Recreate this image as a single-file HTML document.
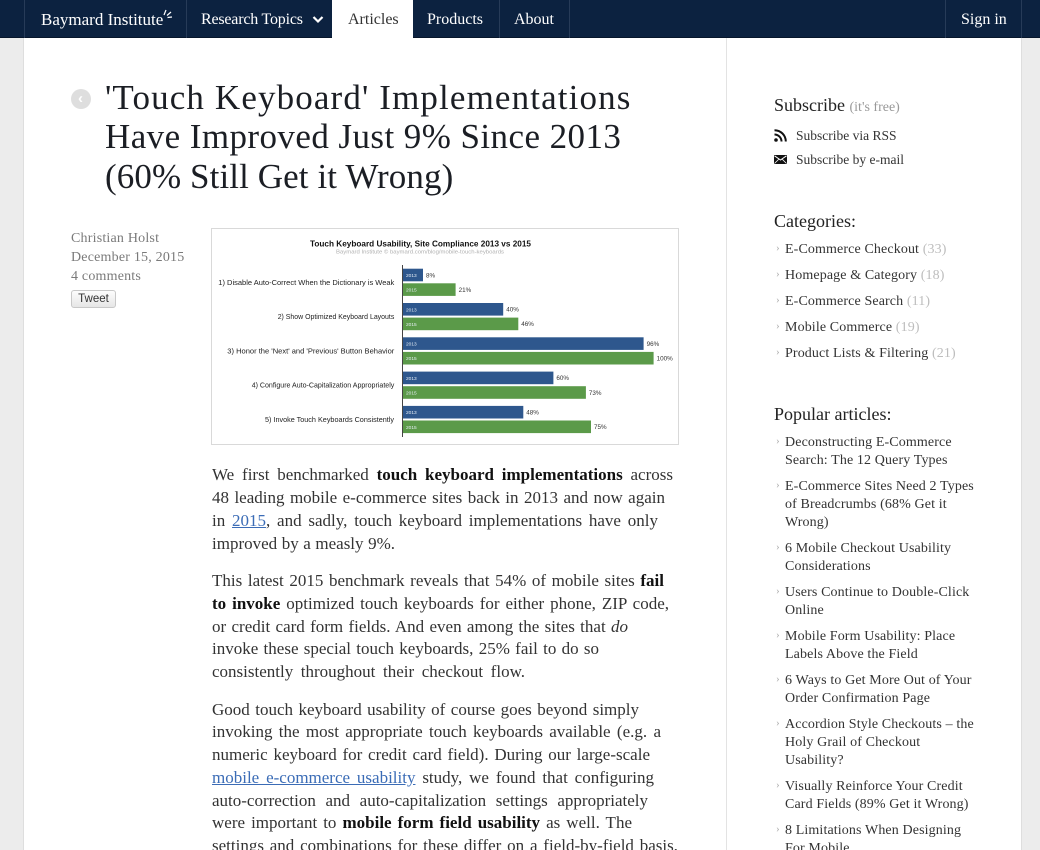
<!DOCTYPE html>
<html>
<head>
<meta charset="utf-8">
<style>
  html{margin:0;padding:0;width:1040px;height:850px;overflow:hidden;background:#ececec;}
  body{margin:0;padding:0;width:1040px;height:850px;overflow:hidden;background:#ececec;position:relative;font-family:"Liberation Serif",serif;color:#333;}
  .abs{position:absolute;}
  #wrap{position:absolute;left:23px;top:0;width:997px;height:850px;background:#fff;border-left:1px solid #dedede;border-right:1px solid #dedede;}
  #nav{position:absolute;left:0;top:0;width:1040px;height:37px;background:#0c2240;border-bottom:1px solid #07162b;}
  .sep{position:absolute;top:0;width:1px;height:38px;background:#273b58;}
  .navt{position:absolute;top:0;line-height:38px;font-size:16px;color:#fff;white-space:nowrap;}
  #title{position:absolute;left:105px;top:77.9px;font-size:35px;line-height:39.5px;color:#1b1e24;white-space:nowrap;}
  .meta{position:absolute;left:71px;top:229.2px;font-size:14px;line-height:19px;color:#7a7a7a;letter-spacing:0.2px;white-space:nowrap;}
  #body{position:absolute;left:212px;top:464.4px;font-size:17px;line-height:22.7px;color:#333;}
  #body p{margin:0 0 15px 0;}
  #body .l{display:block;text-align:justify;text-align-last:justify;white-space:normal;}
  #body b{color:#111;}
  #body a{color:#3b6cb6;text-decoration:underline;}
  .side{position:absolute;left:774px;white-space:nowrap;}
  .h{font-size:18px;line-height:18px;color:#222;}
  .sub{font-size:13.5px;line-height:18px;color:#333;}
  .list{position:absolute;left:776px;font-size:14px;line-height:18px;color:#333;letter-spacing:0.12px;white-space:nowrap;}
  .list .it{position:relative;padding-left:9px;margin-bottom:8px;}
  .list .it:before{content:"›";position:absolute;left:0;top:-2px;color:#aaa;font-size:11px;}
  .cnt{color:#bdbdbd;}
</style>
</head>
<body>
<div id="wrap"></div>

<!-- sidebar divider -->
<div class="abs" style="left:726px;top:38px;width:1px;height:812px;background:#e3e3e3;"></div>

<!-- NAV -->
<div id="nav"></div>
<div class="abs" style="left:332px;top:0;width:81px;height:38px;background:#fff;"></div>
<div class="sep" style="left:24px"></div>
<div class="sep" style="left:186px"></div>
<div class="sep" style="left:499px"></div>
<div class="sep" style="left:569px"></div>
<div class="sep" style="left:945px"></div>
<div class="sep" style="left:1021px"></div>
<div class="navt" style="left:41px;font-size:17px;top:1px;">Baymard Institute</div>
<svg class="abs" style="left:160px;top:9px" width="14" height="14" viewBox="0 0 14 14">
  <path d="M4 6 L6 1 M7 6.5 L11 3 M7.5 8.5 L12 8" stroke="#fff" stroke-width="1.2" fill="none"/>
</svg>
<div class="navt" style="left:201px;letter-spacing:-0.2px;top:1px;">Research Topics</div>
<svg class="abs" style="left:312px;top:15px" width="12" height="9" viewBox="0 0 12 9">
  <polyline points="1.5,2 6,6.5 10.5,2" stroke="#fff" stroke-width="2.2" fill="none"/>
</svg>
<div class="navt" style="left:348px;color:#333;top:1px;">Articles</div>
<div class="navt" style="left:427px;top:1px;">Products</div>
<div class="navt" style="left:514px;top:1px;">About</div>
<div class="navt" style="left:961px;top:1px;">Sign in</div>

<!-- back button -->
<div class="abs" style="left:70.5px;top:89px;width:20px;height:20px;border-radius:50%;background:#dedede;color:#fff;font-size:15px;line-height:19px;text-align:center;font-family:'Liberation Sans',sans-serif;font-weight:bold;">‹</div>

<!-- TITLE -->
<div id="title">
  <div style="letter-spacing:1.13px;">'Touch Keyboard' Implementations</div>
  <div style="letter-spacing:0.43px;">Have Improved Just 9% Since 2013</div>
  <div style="letter-spacing:0.1px;">(60% Still Get it Wrong)</div>
</div>

<!-- META -->
<div class="meta">Christian Holst<br>December 15, 2015<br>4 comments</div>
<div class="abs" style="left:71px;top:290px;width:45px;height:18px;box-sizing:border-box;border:1px solid #c8c8c8;border-radius:3px;background:linear-gradient(#fdfdfd,#e6e6e6);font-family:'Liberation Sans',sans-serif;font-size:11.5px;line-height:16px;text-align:center;color:#333;">Tweet</div>

<!-- CHART -->
<svg class="abs" style="left:211px;top:228px" width="469" height="218" viewBox="0 0 469 218" font-family="Liberation Sans, sans-serif">
  <rect x="0.5" y="0.5" width="467" height="216" fill="#fff" stroke="#d9d9d9"/>
  <text x="99" y="18.5" font-size="8.3" font-weight="bold" fill="#111" textLength="221" lengthAdjust="spacingAndGlyphs">Touch Keyboard Usability, Site Compliance 2013 vs 2015</text>
  <text x="125" y="25.5" font-size="5.4" fill="#b0b0b0" textLength="168" lengthAdjust="spacingAndGlyphs">Baymard Institute © baymard.com/blog/mobile-touch-keyboards</text>

  <rect x="192" y="40.7" width="20.0" height="12.6" fill="#2e578d"/>
  <rect x="192" y="55.3" width="52.6" height="12.6" fill="#5b9a49"/>
  <rect x="192" y="75.0" width="100.2" height="12.6" fill="#2e578d"/>
  <rect x="192" y="89.6" width="115.3" height="12.6" fill="#5b9a49"/>
  <rect x="192" y="109.3" width="240.6" height="12.6" fill="#2e578d"/>
  <rect x="192" y="123.9" width="250.6" height="12.6" fill="#5b9a49"/>
  <rect x="192" y="143.6" width="150.4" height="12.6" fill="#2e578d"/>
  <rect x="192" y="158.2" width="182.9" height="12.6" fill="#5b9a49"/>
  <rect x="192" y="177.9" width="120.3" height="12.6" fill="#2e578d"/>
  <rect x="192" y="192.5" width="188.0" height="12.6" fill="#5b9a49"/>

  <line x1="191.5" y1="37" x2="191.5" y2="209" stroke="#444" stroke-width="1"/>

  <g font-size="4.8" fill="#e6edf5">
    <text x="195" y="49">2013</text><text x="195" y="63.6">2015</text>
    <text x="195" y="83.3">2013</text><text x="195" y="97.9">2015</text>
    <text x="195" y="117.6">2013</text><text x="195" y="132.2">2015</text>
    <text x="195" y="151.9">2013</text><text x="195" y="166.5">2015</text>
    <text x="195" y="186.2">2013</text><text x="195" y="200.8">2015</text>
  </g>
  <g font-size="6.3" fill="#333">
    <text x="215" y="49.3">8%</text><text x="247.6" y="63.9">21%</text>
    <text x="295.2" y="83.6">40%</text><text x="310.3" y="98.2">46%</text>
    <text x="435.6" y="117.9">96%</text><text x="445.6" y="132.5">100%</text>
    <text x="345.4" y="152.2">60%</text><text x="377.9" y="166.8">73%</text>
    <text x="315.3" y="186.5">48%</text><text x="383" y="201.1">75%</text>
  </g>
  <g font-size="7.2" fill="#222">
    <text x="7.3" y="56.8" textLength="176" lengthAdjust="spacingAndGlyphs">1) Disable Auto-Correct When the Dictionary is Weak</text>
    <text x="66.7" y="91.1" textLength="116.6" lengthAdjust="spacingAndGlyphs">2) Show Optimized Keyboard Layouts</text>
    <text x="16.3" y="125.4" textLength="167" lengthAdjust="spacingAndGlyphs">3) Honor the 'Next' and 'Previous' Button Behavior</text>
    <text x="40.7" y="159.7" textLength="142.6" lengthAdjust="spacingAndGlyphs">4) Configure Auto-Capitalization Appropriately</text>
    <text x="54" y="194" textLength="129" lengthAdjust="spacingAndGlyphs">5) Invoke Touch Keyboards Consistently</text>
  </g>
</svg>

<!-- BODY TEXT -->
<div id="body">
  <p>
    <span class="l" style="width:461px">We first benchmarked <b>touch keyboard implementations</b> across</span>
    <span class="l" style="width:453px">48 leading mobile e-commerce sites back in 2013 and now again</span>
    <span class="l" style="width:446px">in <a>2015</a>, and sadly, touch keyboard implementations have only</span>
    <span class="l" style="width:183px">improved by a measly 9%.</span>
  </p>
  <p>
    <span class="l" style="width:452px">This latest 2015 benchmark reveals that 54% of mobile sites <b>fail</b></span>
    <span class="l" style="width:457px"><b>to invoke</b> optimized touch keyboards for either phone, ZIP code,</span>
    <span class="l" style="width:416px">or credit card form fields. And even among the sites that <i>do</i></span>
    <span class="l" style="width:387px">invoke these special touch keyboards, 25% fail to do so</span>
    <span class="l" style="width:313px">consistently throughout their checkout flow.</span>
  </p>
  <p>
    <span class="l" style="width:427px">Good touch keyboard usability of course goes beyond simply</span>
    <span class="l" style="width:449px">invoking the most appropriate touch keyboards available (e.g. a</span>
    <span class="l" style="width:438px">numeric keyboard for credit card field). During our large-scale</span>
    <span class="l" style="width:442px"><a>mobile e-commerce usability</a> study, we found that configuring</span>
    <span class="l" style="width:436px">auto-correction and auto-capitalization settings appropriately</span>
    <span class="l" style="width:420px">were important to <b>mobile form field usability</b> as well. The</span>
    <span class="l" style="width:466px">settings and combinations for these differ on a field-by-field basis,</span>
  </p>
</div>

<!-- SIDEBAR -->
<div class="side h" style="top:96px;">Subscribe <span style="font-size:14px;color:#999;">(it's free)</span></div>

<svg class="abs" style="left:774px;top:129px" width="13" height="13" viewBox="0 0 13 13">
  <circle cx="2" cy="11" r="1.8" fill="#111"/>
  <path d="M0.5 5.5 A7 7 0 0 1 7.5 12.5" stroke="#111" stroke-width="2" fill="none"/>
  <path d="M0.5 1.2 A11.3 11.3 0 0 1 11.8 12.5" stroke="#111" stroke-width="2" fill="none"/>
</svg>
<div class="side sub" style="left:796px;top:127px;">Subscribe via RSS</div>

<svg class="abs" style="left:774px;top:155px" width="13" height="9" viewBox="0 0 13 9">
  <rect x="0" y="0" width="13" height="9" fill="#111"/>
  <polyline points="0.5,0.8 6.5,5 12.5,0.8" stroke="#fff" stroke-width="1" fill="none"/>
  <line x1="0.5" y1="8.5" x2="5" y2="4" stroke="#fff" stroke-width="0.8"/>
  <line x1="12.5" y1="8.5" x2="8" y2="4" stroke="#fff" stroke-width="0.8"/>
</svg>
<div class="side sub" style="left:796px;top:151px;">Subscribe by e-mail</div>

<div class="side h" style="top:212px;">Categories:</div>
<div class="list" style="top:241.3px;">
  <div class="it">E-Commerce Checkout <span class="cnt">(33)</span></div>
  <div class="it">Homepage &amp; Category <span class="cnt">(18)</span></div>
  <div class="it">E-Commerce Search <span class="cnt">(11)</span></div>
  <div class="it">Mobile Commerce <span class="cnt">(19)</span></div>
  <div class="it">Product Lists &amp; Filtering <span class="cnt">(21)</span></div>
</div>

<div class="side h" style="top:405px;">Popular articles:</div>
<div class="list" style="top:434.4px;">
  <div class="it">Deconstructing E-Commerce<br>Search: The 12 Query Types</div>
  <div class="it">E-Commerce Sites Need 2 Types<br>of Breadcrumbs (68% Get it<br>Wrong)</div>
  <div class="it">6 Mobile Checkout Usability<br>Considerations</div>
  <div class="it">Users Continue to Double-Click<br>Online</div>
  <div class="it">Mobile Form Usability: Place<br>Labels Above the Field</div>
  <div class="it">6 Ways to Get More Out of Your<br>Order Confirmation Page</div>
  <div class="it">Accordion Style Checkouts – the<br>Holy Grail of Checkout<br>Usability?</div>
  <div class="it">Visually Reinforce Your Credit<br>Card Fields (89% Get it Wrong)</div>
  <div class="it">8 Limitations When Designing<br>For Mobile</div>
</div>

</body>
</html>
